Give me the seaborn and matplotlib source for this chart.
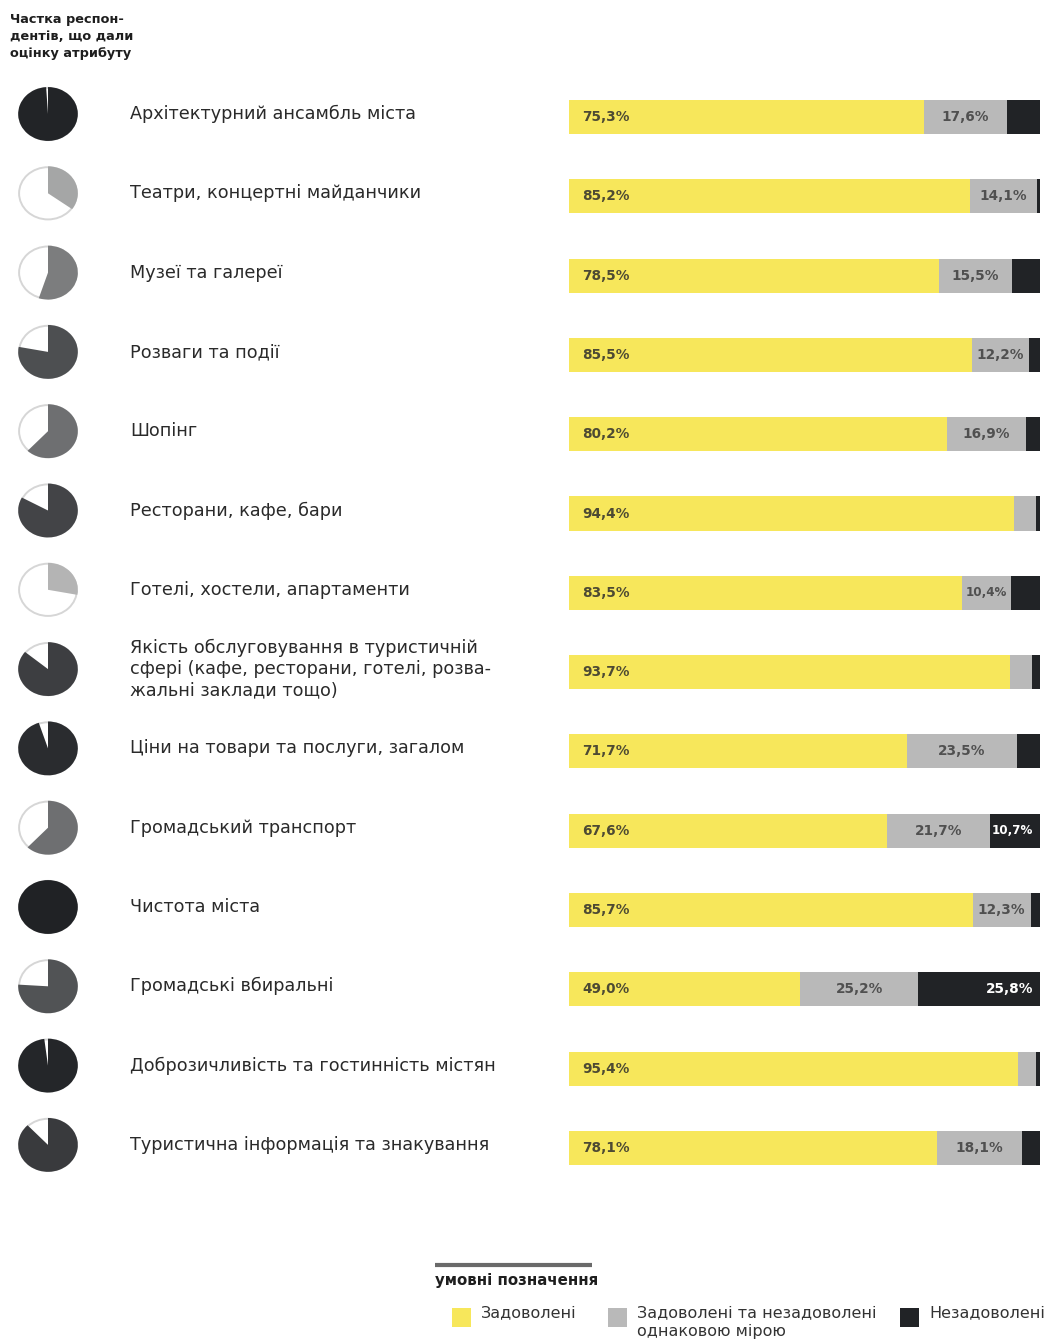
import matplotlib
matplotlib.use("Agg")
import matplotlib.pyplot as plt
from matplotlib.patches import Circle, Rectangle
import numpy as np
import pandas as pd
import seaborn as sns

# --- data -------------------------------------------------------------
attributes = [
    "Архітектурний ансамбль міста",
    "Театри, концертні майданчики",
    "Музеї та галереї",
    "Розваги та події",
    "Шопінг",
    "Ресторани, кафе, бари",
    "Готелі, хостели, апартаменти",
    "Якість обслуговування в туристичній\nсфері (кафе, ресторани, готелі, розва-\nжальні заклади тощо)",
    "Ціни на товари та послуги, загалом",
    "Громадський транспорт",
    "Чистота міста",
    "Громадські вбиральні",
    "Доброзичливість та гостинність містян",
    "Туристична інформація та знакування",
]
satisfied = [75.3, 85.2, 78.5, 85.5, 80.2, 94.4, 83.5, 93.7, 71.7, 67.6, 85.7, 49.0, 95.4, 78.1]
neutral = [17.6, 14.1, 15.5, 12.2, 16.9, 4.8, 10.4, 4.5, 23.5, 21.7, 12.3, 25.2, 3.8, 18.1]
dissatisfied = [7.1, 0.7, 6.0, 2.3, 2.9, 0.8, 6.1, 1.8, 4.8, 10.7, 2.0, 25.8, 0.8, 3.8]
# share of respondents who rated each attribute
rated_share = [0.99, 0.35, 0.55, 0.78, 0.62, 0.83, 0.28, 0.86, 0.95, 0.62, 1.0, 0.76, 0.98, 0.88]

legend_labels = ["Задоволені", "Задоволені та незадоволені\nоднаковою мірою", "Незадоволені"]
title_text = "Частка респон-\nдентів, що дали\nоцінку атрибуту"
legend_title = "умовні позначення"

YELLOW = "#f7e75b"
GREY = "#b9b9b9"
BLACK = "#212326"

W, H = 1049, 1342
sns.set_theme(style="white")
plt.rcParams["font.family"] = ["DejaVu Sans"]

fig = plt.figure(figsize=(W / 100, H / 100), dpi=100)
fig.patch.set_facecolor("white")

# overlay axes in pixel units for free text and the legend
ov = fig.add_axes([0, 0, 1, 1])
ov.set_xlim(0, W)
ov.set_ylim(H, 0)
ov.axis("off")

# --- stacked bars ----------------------------------------------------
top_px, pitch = 117.0, 79.3
n = len(attributes)
y0 = top_px - pitch / 2
y1 = top_px + pitch * (n - 1) + pitch / 2
bx0, bx1 = 569, 1040
ax = fig.add_axes([bx0 / W, (H - y1) / H, (bx1 - bx0) / W, (y1 - y0) / H])
ax.set_facecolor("none")

df = pd.DataFrame({
    "attr": [f"r{i}" for i in range(n)],
    "sat": satisfied,
    "neu": neutral,
    "dis": dissatisfied,
})
df["cum_neu"] = df["sat"] + df["neu"]
df["total"] = df["cum_neu"] + df["dis"]

bw = 0.43
sns.barplot(data=df, x="total", y="attr", color=BLACK, width=bw, orient="h",
            ax=ax, saturation=1, linewidth=0)
sns.barplot(data=df, x="cum_neu", y="attr", color=GREY, width=bw, orient="h",
            ax=ax, saturation=1, linewidth=0)
sns.barplot(data=df, x="sat", y="attr", color=YELLOW, width=bw, orient="h",
            ax=ax, saturation=1, linewidth=0)
ax.set_xlim(0, 100)
ax.set_ylim(n - 0.5, -0.5)
ax.axis("off")

def fmt(v):
    return f"{v:.1f}".replace(".", ",") + "%"

for i, row in df.iterrows():
    ax.text(2.8, i, fmt(row["sat"]), ha="left", va="center", color="#4d4a33",
            fontsize=9.8, fontweight="bold")
    if row["neu"] >= 10:
        fs = 9.8 if row["neu"] >= 12 else 8.6
        ax.text(row["sat"] + row["neu"] / 2, i, fmt(row["neu"]), ha="center",
                color="#505050", fontsize=fs, fontweight="bold", va="center")
    if row["dis"] >= 10:
        fs = 9.8 if row["dis"] >= 12 else 8.6
        ax.text(98.6, i, fmt(row["dis"]), ha="right", color="white",
                fontsize=fs, fontweight="bold", va="center")

# --- row labels and pies ---------------------------------------------
def shade(f):
    lo, hi = np.array([0xc4, 0xc4, 0xc4]), np.array([0x20, 0x22, 0x25])
    t = np.clip((f - 0.2) / 0.8, 0, 1)
    c = lo + (hi - lo) * t
    return tuple(c / 255)

for i, (name, f) in enumerate(zip(attributes, rated_share)):
    cy = top_px + pitch * i - 3
    ov.text(130, cy, name, fontsize=12.7, color="#2a2a2a", va="center", ha="left",
            linespacing=1.25)
    pw, ph = 62, 56
    pax = fig.add_axes([(48 - pw / 2) / W, (H - (cy + ph / 2)) / H, pw / W, ph / H])
    pax.add_patch(Circle((0, 0), 0.97, facecolor="white", edgecolor="#d6d6d6",
                         linewidth=1.4, zorder=0))
    pax.pie([f, 1 - f], colors=[shade(f), "none"], startangle=90,
            counterclock=False, radius=1.0, wedgeprops=dict(linewidth=0))
    pax.set_xlim(-1.04, 1.04)
    pax.set_ylim(-1.04, 1.04)
    pax.set_aspect("auto")
    pax.axis("off")

# --- title -----------------------------------------------------------
ov.text(10, 13, title_text, fontsize=9.3, fontweight="bold", color="#1e1e1e",
        va="top", ha="left", linespacing=1.42)

# --- legend ----------------------------------------------------------
ov.plot([435, 592], [1265, 1265], color="#6a6a6a", linewidth=3, solid_capstyle="butt")
ov.text(435, 1281, legend_title, fontsize=10.8, fontweight="bold", color="#1e1e1e",
        va="center", ha="left")
sq = 19
for (x, col, lab) in [(452, YELLOW, legend_labels[0]),
                      (608, GREY, legend_labels[1]),
                      (900, BLACK, legend_labels[2])]:
    ov.add_patch(Rectangle((x, 1308), sq, sq, facecolor=col, edgecolor="none"))
    ov.text(x + 29, 1305, lab, fontsize=11.5, color="#333333", va="top", ha="left",
            linespacing=1.3)

fig.savefig("out.png", dpi=100, facecolor="white")
